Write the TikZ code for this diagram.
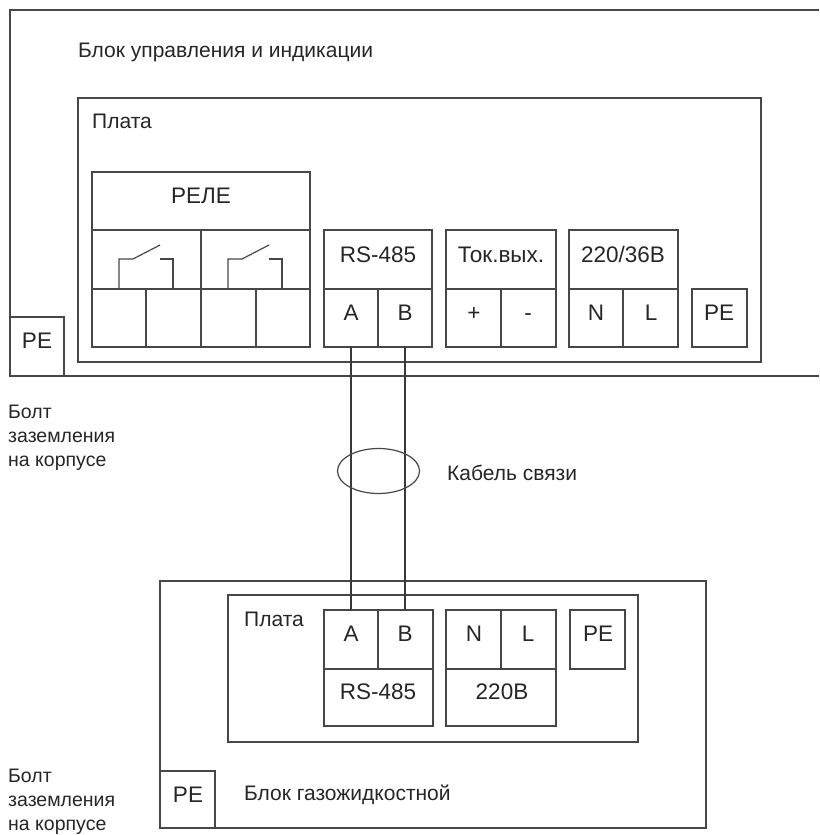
\documentclass[tikz,border=0pt]{standalone}
\usepackage{fontspec}
\setmainfont{Liberation Sans}
\begin{document}
\begin{tikzpicture}[x=1pt,y=-1pt,
  ln/.style={draw=black!72,line width=1.2pt},
  wire/.style={draw=black!78,line width=1.2pt},
  lbl/.style={inner sep=0pt,font=\fontsize{21}{24}\selectfont,text=black!85},
  lft/.style={lbl,anchor=base west},
  mid/.style={lbl,anchor=base,font=\fontsize{22.5}{24}\selectfont},
  small/.style={lbl,anchor=base west,align=left,font=\fontsize{19.5}{24}\selectfont}]
\useasboundingbox (0,0) rectangle (819,835);
% outer upper block
\coordinate (o1) at (10,10); \coordinate (o2) at (819,10);
\coordinate (o3) at (819,376); \coordinate (o4) at (10,376);
\draw[ln] (o2) -- (o1) -- (o4) -- (o3);
\node[lft] (t1) at (78,57) {Блок управления и индикации};
% plate
\draw[ln] (78,98) rectangle (761,362);
\node[lft] (t2) at (92,128) {Плата};
% relay
\draw[ln] (92,172) rectangle (310,347);
\draw[ln] (92,230) -- (310,230);
\draw[ln] (92,289) -- (310,289);
\draw[ln] (201,230) -- (201,347);
\draw[ln] (146,289) -- (146,347);
\draw[ln] (256,289) -- (256,347);
\node[mid] (t3) at (201,203) {РЕЛЕ};
\foreach \dx in {0,109}{
 \draw[ln] (119+\dx,289) -- (119+\dx,259) -- (133+\dx,259) -- (160+\dx,245);
 \draw[ln] (160+\dx,259) -- (173+\dx,259) -- (173+\dx,289);
}
% RS-485 upper
\draw[ln] (324,230) rectangle (432,347);
\draw[ln] (324,289) -- (432,289);
\draw[ln] (378,289) -- (378,347);
\node[mid] (t4) at (378,262) {RS-485};
\node[mid] (ua) at (351,320) {A};
\node[mid] (ub) at (405,320) {B};
% current
\draw[ln] (446,230) rectangle (556,347);
\draw[ln] (446,289) -- (556,289);
\draw[ln] (501,289) -- (501,347);
\node[mid] (t5) at (501,262) {Ток.вых.};
\node[mid] (t6) at (474,320) {+};
\node[mid] (t7) at (528,320) {-};
% 220/36
\draw[ln] (569,230) rectangle (678,347);
\draw[ln] (569,289) -- (678,289);
\draw[ln] (623,289) -- (623,347);
\node[mid] (t8) at (623,262) {220/36В};
\node[mid] (t9) at (596,320) {N};
\node[mid] (t10) at (651,320) {L};
% PE
\draw[ln] (692,289) rectangle (747,347);
\node[mid] (t11) at (719,320) {PE};
\draw[ln] (10,317) -- (64,317) -- (64,376);
\node[mid] (t12) at (37,348) {PE};
% side text
\node[small] (t13a) at (8,418) {Болт};
\node[small] (t13b) at (8,442) {заземления};
\node[small] (t13c) at (8,466) {на корпусе};
\node[small] (t14a) at (8,782) {Болт};
\node[small] (t14b) at (8,806) {заземления};
\node[small] (t14c) at (8,830) {на корпусе};
% lower block
\draw[ln] (160,581) rectangle (706,828);
\draw[ln] (228,595) rectangle (638,742);
\node[lft] (t15) at (244,626) {Плата};
\draw[ln] (324,610) rectangle (433,726);
\draw[ln] (324,669) -- (433,669);
\draw[ln] (378,610) -- (378,669);
\node[mid] (la) at (351,641) {A};
\node[mid] (lb) at (405,641) {B};
\node[mid] (t16) at (378,699) {RS-485};
\draw[ln] (446,610) rectangle (556,726);
\draw[ln] (446,669) -- (556,669);
\draw[ln] (501,610) -- (501,669);
\node[mid] (t17) at (474,641) {N};
\node[mid] (t18) at (528,641) {L};
\node[mid] (t19) at (502,699) {220В};
\draw[ln] (570,610) rectangle (625,669);
\node[mid] (t20) at (598,641) {PE};
\draw[ln] (160,771) -- (215,771) -- (215,828);
\node[mid] (t21) at (188,802) {PE};
\node[lft] (t22) at (244,800) {Блок газожидкостной};
% cable
\coordinate (w1) at (351,347); \coordinate (w2) at (405,347);
\coordinate (w3) at (351,610); \coordinate (w4) at (405,610);
\draw[wire] (w1) -- (w3);
\draw[wire] (w2) -- (w4);
\draw[ln] (378.5,471) ellipse (41 and 22.5);
\node[lft] (t23) at (447,480) {Кабель связи};
\end{tikzpicture}
\end{document}
